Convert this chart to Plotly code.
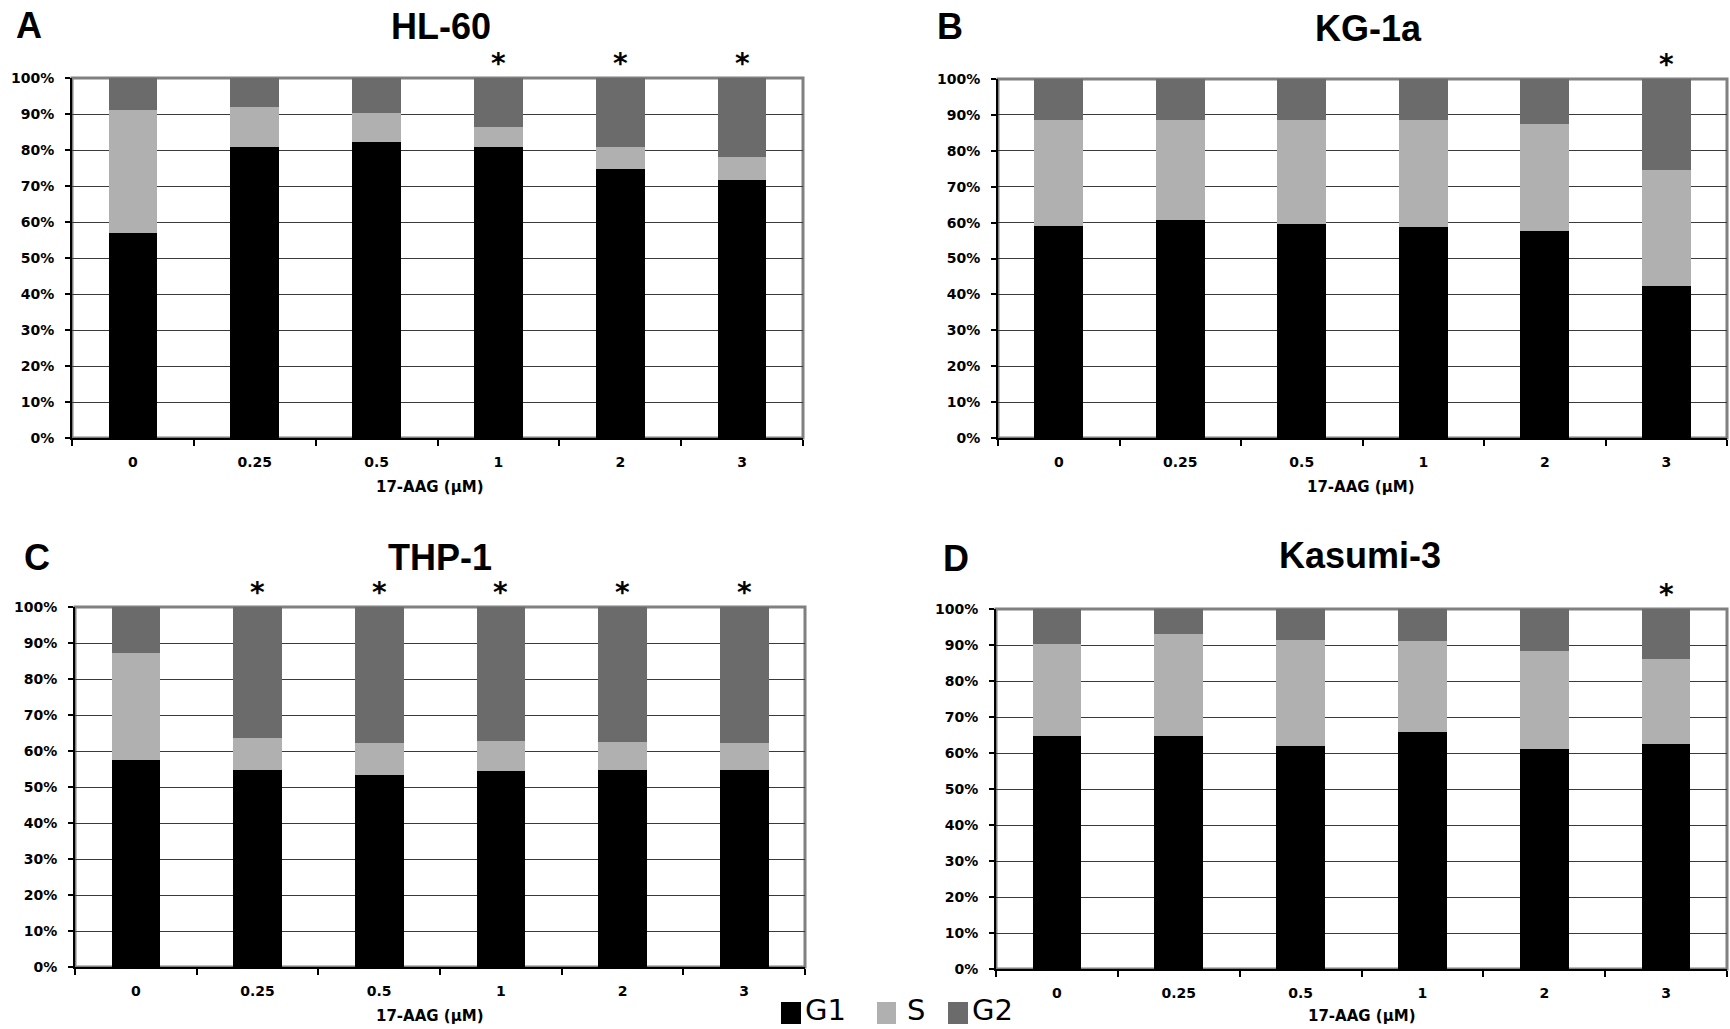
import plotly.graph_objects as go

W, H = 1730, 1029

categories = ["0", "0.25", "0.5", "1", "2", "3"]
cell_lines = ["HL-60", "KG-1a", "THP-1", "Kasumi-3"]
panel_letters = ["A", "B", "C", "D"]

g1_hl60 = [56.9, 80.9, 82.1, 80.7, 74.7, 71.6]
s_hl60 = [34.3, 11.0, 8.2, 5.8, 6.2, 6.4]
g2_hl60 = [8.8, 8.1, 9.7, 13.5, 19.1, 22.0]

g1_kg1a = [59.1, 60.8, 59.6, 58.7, 57.8, 42.4]
s_kg1a = [29.5, 27.7, 28.9, 29.9, 29.7, 32.2]
g2_kg1a = [11.4, 11.5, 11.5, 11.4, 12.5, 25.4]

g1_thp1 = [57.5, 54.8, 53.3, 54.4, 54.6, 54.8]
s_thp1 = [29.7, 8.7, 8.8, 8.5, 7.9, 7.5]
g2_thp1 = [12.8, 36.5, 37.9, 37.1, 37.5, 37.7]

g1_kasumi3 = [64.8, 64.6, 61.9, 65.7, 61.1, 62.5]
s_kasumi3 = [25.6, 28.5, 29.6, 25.3, 27.1, 23.6]
g2_kasumi3 = [9.6, 6.9, 8.5, 9.0, 11.8, 13.9]

# significance markers (True = asterisk above bar)
stars_hl60 = [False, False, False, True, True, True]
stars_kg1a = [False, False, False, False, False, True]
stars_thp1 = [False, True, True, True, True, True]
stars_kasumi3 = [False, False, False, False, False, True]

phases = ["G1", "S", "G2"]
phase_colors = ["#000000", "#b0b0b0", "#6b6b6b"]

panel_data = [
    (g1_hl60, s_hl60, g2_hl60, stars_hl60),
    (g1_kg1a, s_kg1a, g2_kg1a, stars_kg1a),
    (g1_thp1, s_thp1, g2_thp1, stars_thp1),
    (g1_kasumi3, s_kasumi3, g2_kasumi3, stars_kasumi3),
]

# layout in pixels (left, right, top, bottom)
panel_px = [
    (72, 803, 78, 438),
    (998, 1727, 79, 438),
    (75, 805, 607, 967),
    (996, 1727, 609, 969),
]
title_px = [(441, 27), (1368, 29), (440, 557), (1360, 555)]
letter_px = [(29, 25), (950, 27), (37, 557), (956, 558)]
xtitle_px = [(430, 487), (1361, 487), (430, 1016), (1362, 1016)]


def px(x):
    return x / W


def py(y):
    return 1 - y / H


fig = go.Figure()
TICK_FONT = dict(family="DejaVu Sans", size=14, color="black", weight="bold")

for i, (g1, s, g2, stars) in enumerate(panel_data):
    n = "" if i == 0 else str(i + 1)
    xa, ya = "x" + n, "y" + n
    for name, vals, col in zip(phases, (g1, s, g2), phase_colors):
        fig.add_trace(go.Bar(x=categories, y=vals, name=name, marker=dict(color=col, line=dict(width=0)),
                             xaxis=xa, yaxis=ya, showlegend=False))
    l, r, t, b = panel_px[i]
    fig.layout["xaxis" + n] = dict(
        domain=[px(l), px(r)], anchor=ya, type="category", range=[-0.5, 5.5],
        showline=True, linecolor="black", linewidth=2, ticks="outside", tickson="boundaries",
        ticklen=6, tickwidth=1.5, tickcolor="black", showgrid=False, tickfont=TICK_FONT,
        ticklabelstandoff=10, fixedrange=True, automargin=False,
    )
    fig.layout["yaxis" + n] = dict(
        domain=[py(b), py(t)], anchor=xa, range=[0, 100], dtick=10, ticksuffix="%",
        showline=True, linecolor="black", linewidth=2, ticks="outside", ticklen=5,
        tickwidth=1.5, tickcolor="black", showgrid=True, gridcolor="#3a3a3a", gridwidth=1,
        zeroline=False, tickfont=TICK_FONT, ticklabelstandoff=8, fixedrange=True, automargin=False,
    )
    # gray frame
    fig.add_shape(type="rect", xref=xa + " domain", yref=ya + " domain", x0=0, x1=1, y0=0, y1=1,
                  line=dict(color="#808080", width=3), layer="below")
    # title, letter, x title
    fig.add_annotation(text=cell_lines[i], x=px(title_px[i][0]), y=py(title_px[i][1]), xref="paper", yref="paper",
                       showarrow=False, xanchor="center", yanchor="middle",
                       font=dict(family="Liberation Sans, Arial", size=36, color="black", weight="bold"))
    fig.add_annotation(text=panel_letters[i], x=px(letter_px[i][0]), y=py(letter_px[i][1]), xref="paper", yref="paper",
                       showarrow=False, xanchor="center", yanchor="middle",
                       font=dict(family="Liberation Sans, Arial", size=36, color="black", weight="bold"))
    fig.add_annotation(text="17-AAG (μM)", x=px(xtitle_px[i][0]), y=py(xtitle_px[i][1]), xref="paper", yref="paper",
                       showarrow=False, xanchor="center", yanchor="middle",
                       font=dict(family="DejaVu Sans", size=15, color="black", weight="bold"))
    for k, st in enumerate(stars):
        if st:
            fig.add_annotation(text="*", x=k, y=1, xref=xa, yref=ya + " domain", showarrow=False,
                               xanchor="center", yanchor="bottom", yshift=-4,
                               font=dict(family="DejaVu Sans", size=28, color="black", weight="bold"))

# legend drawn as swatches + labels
legend_sq = [(781, 801), (877, 896), (948, 968)]
legend_txt_x = [804, 906, 971]
for (x0, x1), tx, name, col in zip(legend_sq, legend_txt_x, phases, phase_colors):
    fig.add_shape(type="rect", xref="paper", yref="paper", x0=px(x0), x1=px(x1), y0=py(1024), y1=py(1002),
                  fillcolor=col, line=dict(width=0))
    fig.add_annotation(text=name, x=px(tx), y=py(1010), xref="paper", yref="paper", showarrow=False,
                       xanchor="left", yanchor="middle", borderpad=0,
                       font=dict(family="DejaVu Sans", size=29, color="black"))

fig.update_layout(
    width=W, height=H, margin=dict(l=0, r=0, t=0, b=0),
    paper_bgcolor="white", plot_bgcolor="white", barmode="stack", bargap=0.6,
    showlegend=False,
)

fig.write_html("out.html", include_plotlyjs=True, config={"displayModeBar": False})
